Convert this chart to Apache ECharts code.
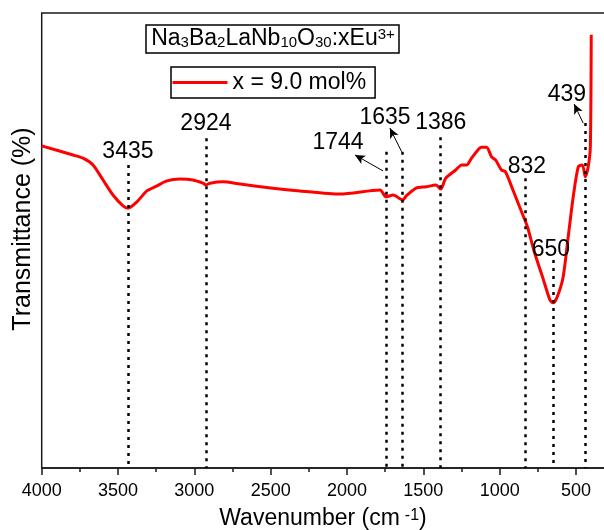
<!DOCTYPE html>
<html>
<head>
<meta charset="utf-8">
<script src="https://cdn.jsdelivr.net/npm/echarts@6/dist/echarts.min.js"></script>
<style>
html,body{margin:0;padding:0;background:#fff;}
#main{width:604px;height:530px;}
</style>
</head>
<body>
<div id="main"></div>
<script>
// ---- data ----
const wavenumbers = [4000,3795,3729,3664,3598,3533,3467,3435,3376,3311,3245,3180,3094,3009,2943,2924,2897,2812,2701,2485,2308,2046,1784,1744,1698,1635,1612,1547,1482,1417,1386,1353,1288,1249,1216,1184,1137,1118,1086,1053,1027,988,962,913,887,848,832,815,771,719,670,650,623,584,551,518,485,458,439,420,406,400];
const transmittance = [70.8,68.8,68.1,66.6,63.3,60.0,57.6,57.1,58.5,60.9,62.0,63.1,63.5,63.3,62.6,62.2,62.6,62.9,62.4,61.5,60.9,60.2,61.1,59.6,60.0,58.9,59.8,61.5,61.8,62.2,61.3,63.7,65.5,66.6,66.6,68.1,70.1,70.5,70.5,68.4,67.7,65.5,65.1,61.1,58.9,55.6,54.3,52.7,47.3,42.0,36.9,36.3,37.6,42.0,50.8,59.6,66.2,66.6,64.0,66.2,70.5,95.2];
const peakPositions = [3435, 2924, 1744, 1635, 1386, 832, 650, 439];
const guideTops     = [66.6, 72.5, 69.5, 69.5, 72.7, 63.7, 45.7, 75.8];
const labelAnchorX  = [3435, 2924, 2059, 1751, 1386, 821, 664, 559];
const labelAnchorY  = [69.5, 75.6, 71.4, 77.1, 76.0, 66.2, 47.9, 82.0];
const arrowTails = [[1764, 65.3], [1642, 69.5], [453, 75.8]];
const arrowHeads = [[1948, 68.8], [1719, 74.7], [512, 80.0]];
const xTicks = {min: 0, max: 4000, step: 500};
const seriesName = 'x = 9.0 mol%';

const FONT = '"Liberation Sans", Arial, Helvetica, sans-serif';
const chart = echarts.init(document.getElementById('main'), null, {renderer: 'canvas'});

const lineData = wavenumbers.map((w, i) => [w, transmittance[i]]);
const guideLines = peakPositions.map((p, i) => [
  {coord: [p, guideTops[i]], symbol: 'none'},
  {coord: [p, 0], symbol: 'none'}
]);
const arrowLines = arrowTails.map((t, i) => [
  {coord: t, symbol: 'none', lineStyle: {type: 'solid', width: 1, color: '#000'}},
  {coord: arrowHeads[i], symbol: 'arrow', symbolSize: [7, 10]}
]);
const labelData = peakPositions.map((p, i) => ({value: [labelAnchorX[i], labelAnchorY[i]], name: String(p)}));

chart.setOption({
  animation: false,
  backgroundColor: '#fff',
  grid: {left: 41.7, top: 13, width: 610.6, height: 455, outerBoundsMode: 'none',
         show: true, borderColor: '#1a1a1a', borderWidth: 1.5, containLabel: false},
  legend: {
    data: [seriesName],
    left: 171, top: 67,
    padding: [4, 9, 4, 0],
    borderColor: '#000', borderWidth: 1.5,
    itemWidth: 55, itemHeight: 14, itemGap: 5,
    itemStyle: {opacity: 0},
    lineStyle: {width: 3, color: '#ff0000'},
    textStyle: {fontSize: 23, color: '#000', fontFamily: FONT}
  },
  xAxis: {
    type: 'value', inverse: true,
    min: xTicks.min, max: xTicks.max, interval: xTicks.step,
    axisLine: {show: true, lineStyle: {color: '#1a1a1a', width: 1.5}},
    axisTick: {show: true, length: 7, lineStyle: {color: '#1a1a1a', width: 1.5}},
    minorTick: {show: true, splitNumber: 2, length: 4, lineStyle: {color: '#1a1a1a', width: 1.5}},
    splitLine: {show: false},
    axisLabel: {fontSize: 18, color: '#000', fontFamily: FONT, margin: 14,
      formatter: v => (v === 0 ? '' : String(v))}
  },
  yAxis: {
    type: 'value', min: 0, max: 100,
    axisLine: {show: true, lineStyle: {color: '#1a1a1a', width: 1.5}},
    axisTick: {show: false}, axisLabel: {show: false}, splitLine: {show: false}
  },
  graphic: [
    {type: 'rect', shape: {x: 146, y: 25, width: 253, height: 28}, style: {fill: 'none', stroke: '#000', lineWidth: 1.5}, silent: true},
    {type: 'text', x: 273, y: 39, silent: true, style: {
      text: 'Na{s|3}Ba{s|2}LaNb{s|10}O{s|30}:xEu{p|3+}',
      align: 'center', verticalAlign: 'middle',
      font: '23px ' + FONT, fill: '#000',
      rich: {
        s: {fontSize: 15, fontFamily: FONT, lineHeight: 15, verticalAlign: 'bottom', padding: [3, 0, 0, 0], fill: '#000'},
        p: {fontSize: 15, fontFamily: FONT, lineHeight: 15, verticalAlign: 'top', padding: [0, 0, 3, 0], fill: '#000'}
      }
    }},
    {type: 'text', x: 323, y: 519, silent: true, style: {
      text: 'Wavenumber (cm{p|-1})',
      align: 'center', verticalAlign: 'middle',
      font: '23px ' + FONT, fill: '#000',
      rich: {p: {fontSize: 16, fontFamily: FONT, lineHeight: 16, verticalAlign: 'top', padding: [0, 0, 0, 5], fill: '#000'}}
    }},
    {type: 'text', x: 23, y: 229, rotation: Math.PI / 2, silent: true, style: {
      text: 'Transmittance (%)', align: 'center', verticalAlign: 'middle',
      font: '25px ' + FONT, fill: '#000'
    }}
  ],
  series: [
    {
      name: seriesName, type: 'line', data: lineData,
      symbol: 'none', smooth: 0.25,
      lineStyle: {color: '#ff0000', width: 3, join: 'round'},
      itemStyle: {color: '#ff0000'},
      z: 3
    },
    {
      name: 'annotations', type: 'scatter', data: labelData,
      symbolSize: 0, silent: true, z: 4,
      itemStyle: {opacity: 1},
      label: {show: true, position: 'inside', formatter: p => p.name,
        fontSize: 23, color: '#000', opacity: 1, fontFamily: FONT},
      markLine: {
        silent: true, animation: false,
        symbol: ['none', 'none'],
        label: {show: false},
        lineStyle: {type: [3, 5], color: '#000', width: 2.5, opacity: 1},
        emphasis: {disabled: true},
        data: guideLines.concat(arrowLines)
      }
    }
  ]
});
</script>
</body>
</html>
